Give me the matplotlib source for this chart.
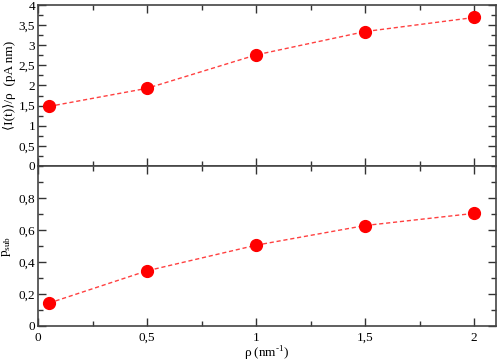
import matplotlib
matplotlib.use('Agg')
import matplotlib.pyplot as plt
import matplotlib.ticker as ticker

# data
rho = [0.05, 0.5, 1.0, 1.5, 2.0]
current = [1.48, 1.93, 2.76, 3.34, 3.69]
p_sub = [0.143, 0.345, 0.505, 0.628, 0.704]

plt.rcParams['font.family'] = ['Liberation Serif', 'DejaVu Serif']
plt.rcParams['font.size'] = 9
plt.rcParams['mathtext.fontset'] = 'custom'
plt.rcParams['mathtext.rm'] = 'Liberation Serif'

W, H = 498, 364
fig = plt.figure(figsize=(W / 100, H / 100), dpi=100)
x0, x1 = 38 / W, 496 / W
ax1 = fig.add_axes([x0, 1 - 166 / H, x1 - x0, (166 - 5) / H])
ax2 = fig.add_axes([x0, 1 - 326 / H, x1 - x0, (326 - 166) / H])

comma = ticker.FuncFormatter(lambda v, p: ('%g' % v).replace('.', ','))

for ax, ys in ((ax1, current), (ax2, p_sub)):
    ax.plot(rho, ys, color='#ff4040', ls='--', lw=1.0, dashes=(3, 2), zorder=2)
    ax.plot(rho, ys, 'o', color='#ff0000', ms=8.5, mec='#ff0000', zorder=3)
    ax.set_xlim(0, 2.1)
    ax.xaxis.set_major_locator(ticker.MultipleLocator(0.5))
    ax.xaxis.set_minor_locator(ticker.MultipleLocator(0.25))
    ax.tick_params(which='both', direction='in', top=True, right=True,
                   colors='#333333', labelcolor='black', labelsize=9.5, pad=2)
    ax.tick_params(which='major', length=5.5, width=1)
    ax.tick_params(which='minor', length=3.5, width=1)
    for s in ax.spines.values():
        s.set_color('#444444')
        s.set_linewidth(1.2)
    ax.xaxis.set_major_formatter(comma)
    ax.yaxis.set_major_formatter(comma)

ax1.set_ylim(0, 4)
ax1.yaxis.set_major_locator(ticker.MultipleLocator(0.5))
ax1.yaxis.set_minor_locator(ticker.MultipleLocator(0.25))
ax1.tick_params(axis='x', labelbottom=False)
ax1.set_ylabel('\u27e8I(t)\u27e9/\u03c1  (pA nm)', labelpad=2, fontsize=9.5,
               family=['Liberation Serif', 'DejaVu Serif'])

ax2.set_ylim(0, 1.0)
ax2.set_yticks([0, 0.2, 0.4, 0.6, 0.8])
ax2.yaxis.set_minor_locator(ticker.MultipleLocator(0.1))
ax2.tick_params(axis='x', pad=4)
ax2.set_ylabel(r'p$_{\mathregular{sub}}$', labelpad=4, fontsize=9.5)
ax2.set_xlabel('\u03c1 (nm$^{\\mathregular{\u2010}1}$)', labelpad=0.5, fontsize=9.5)

fig.savefig('out.png', dpi=100)
